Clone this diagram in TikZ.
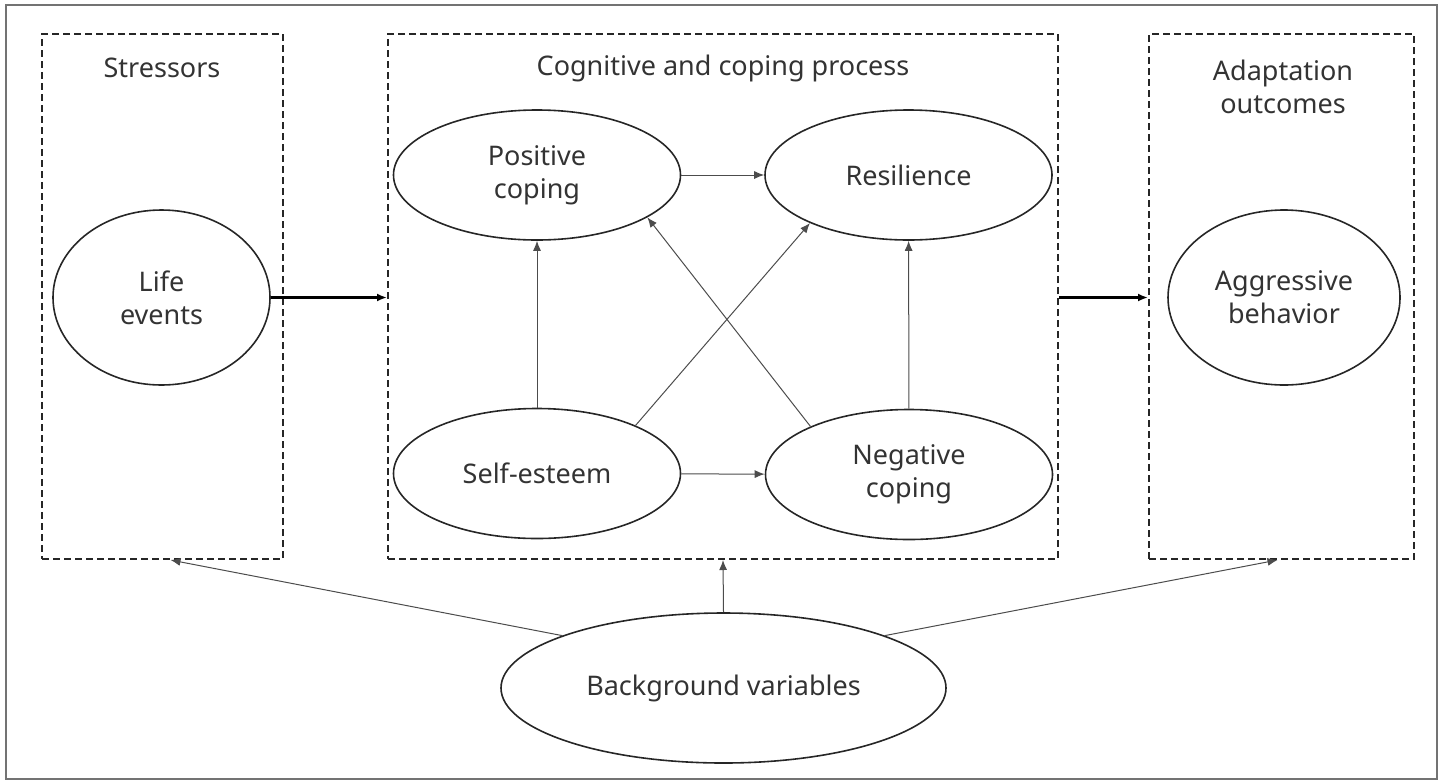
\documentclass[tikz,border=0pt]{standalone}
\usepackage{fontspec}
\setmainfont{Noto Sans}
\usetikzlibrary{calc, positioning, arrows.meta, shapes.geometric}

\begin{document}
\begin{tikzpicture}[
        x=0.5pt, y=-0.5pt,
        font=\fontsize{13.5}{16.5}\selectfont,
        >={Latex[length=5pt, width=4pt]},
        text=black!80,
        frame/.style={
            draw=black!85,
            dash pattern=on 3.5pt off 2pt,
            line width=1pt,
            inner sep=0pt,
            minimum height=262.5pt
        },
        var/.style={
            ellipse,
            draw=black!85,
            line width=0.8pt,
            align=center,
            inner sep=0pt,
            minimum width=143.5pt,
            minimum height=65pt
        },
        title/.style={align=center},
        arrow/.style={->, draw=black!70, line width=0.5pt},
        bigarrow/.style={->, draw=black, line width=1.2pt}
    ]

    \useasboundingbox (0,0) rectangle (1443,782);
    \draw[draw=black!55, line width=1.2pt] (6,5) rectangle (1437,779);

    \node[frame, minimum width=120.5pt] (stressbox) at (162.5,296.5) {};
    \node[frame, minimum width=335pt] (procbox) at (723,296.5) {};
    \node[frame, minimum width=132.5pt] (outbox) at (1281.5,296.5) {};

    \node[title] (stresstitle) at (162,68) {Stressors};
    \node[title] (proctitle) at (723,68) {Cognitive and coping process};
    \node[title] (outtitle) at (1283,87) {Adaptation\\outcomes};

    \node[var, minimum width=108.5pt, minimum height=87.5pt] (life) at (161.5,297.5) {Life\\events};
    \node[var] (poscoping) at (537,175) {Positive\\coping};
    \node[var] (resilience) at (908.5,175) {Resilience};
    \node[var] (selfesteem) at (537,473.5) {Self-esteem};
    \node[var] (negcoping) at (909,474.5) {Negative\\coping};
    \node[var, minimum width=116pt, minimum height=87.5pt] (aggression) at (1284,297.5) {Aggressive\\behavior};
    \node[var, minimum width=222.5pt, minimum height=75pt] (background) at (723.5,688) {Background variables};

    \draw[bigarrow] (life.east) -- (life.east -| procbox.west);
    \draw[bigarrow] (procbox.east |- life.east) -- (outbox.west |- life.east);

    \draw[arrow] (poscoping) -- (resilience);
    \draw[arrow] (selfesteem) -- (poscoping);
    \draw[arrow] (selfesteem) -- (negcoping);
    \draw[arrow] (negcoping) -- (resilience);
    \draw[arrow] (selfesteem.26) -- (resilience.206);
    \draw[arrow] (negcoping.154) -- (poscoping.339);

    \draw[arrow] (background.162) -- ([xshift=4pt]stressbox.south);
    \draw[arrow] (background.north) -- (procbox.south);
    \draw[arrow] (background.18) -- ([xshift=-2pt]outbox.south);

    \end{tikzpicture}
\end{document}
